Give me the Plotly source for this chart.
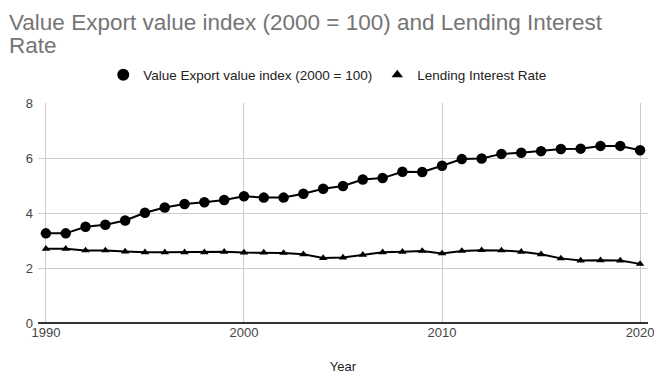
import plotly.graph_objects as go

# Annual series, 1990-2020
years = list(range(1990, 2021))
export_value_index = [
    3.26, 3.26, 3.50, 3.57, 3.73, 4.01, 4.20, 4.33, 4.39, 4.47,
    4.61, 4.56, 4.56, 4.70, 4.88, 4.98, 5.22, 5.27, 5.50, 5.49,
    5.72, 5.96, 5.98, 6.15, 6.19, 6.25, 6.33, 6.34, 6.44, 6.44,
    6.28,
]
lending_interest_rate = [
    2.70, 2.70, 2.64, 2.64, 2.60, 2.57, 2.57, 2.57, 2.57, 2.59,
    2.56, 2.56, 2.55, 2.50, 2.36, 2.38, 2.48, 2.57, 2.59, 2.62,
    2.53, 2.62, 2.65, 2.64, 2.59, 2.50, 2.35, 2.27, 2.28, 2.27,
    2.15,
]
x_ticks = [1990, 2000, 2010, 2020]
y_ticks = [0, 2, 4, 6, 8]

export_name = "Value Export value index (2000 = 100)"
rate_name = "Lending Interest Rate"
title_lines = ["Value Export value index (2000 = 100) and Lending Interest", "Rate"]

# plot area geometry in pixels (used to place the title lines above it)
PLOT_TOP = 103
PLOT_H = 220
PLOT_W = 610
MARGIN_L = 38

fig = go.Figure()

fig.add_trace(go.Scatter(
    x=years, y=export_value_index, name=export_name,
    mode="lines+markers", showlegend=False,
    line=dict(color="black", width=2),
    marker=dict(symbol="circle", size=10.5, color="black"),
))
fig.add_trace(go.Scatter(
    x=years, y=lending_interest_rate, name=rate_name,
    mode="lines+markers", showlegend=False,
    line=dict(color="black", width=2),
    marker=dict(symbol="triangle-up", size=7.5, color="black"),
))

# Marker-only legend entries
fig.add_trace(go.Scatter(
    x=[None], y=[None], name=export_name, mode="markers",
    marker=dict(symbol="circle", size=12, color="black"),
))
fig.add_trace(go.Scatter(
    x=[None], y=[None], name=rate_name, mode="markers",
    marker=dict(symbol="triangle-up", size=10, color="black"),
))

# Two-line title, set tight like a wrapped heading
for line_text, mid_px in zip(title_lines, [23.0, 45.5]):
    fig.add_annotation(
        text=line_text, showarrow=False, align="left",
        xref="paper", yref="paper",
        x=(7 - MARGIN_L) / PLOT_W, xanchor="left",
        y=1 + (PLOT_TOP - mid_px) / PLOT_H, yanchor="middle",
        font=dict(size=22.5, color="#757575"),
    )

fig.update_layout(
    width=654, height=374,
    margin=dict(l=MARGIN_L, r=6, t=PLOT_TOP, b=51, autoexpand=False),
    paper_bgcolor="white", plot_bgcolor="white",
    font=dict(family="Liberation Sans, Arial, sans-serif", size=13, color="#222222"),
    legend=dict(
        orientation="h", x=0.475, xanchor="center",
        y=1 + 28 / PLOT_H, yanchor="middle",
        font=dict(size=13.5, color="#222222"),
        itemsizing="trace", itemwidth=30,
    ),
    xaxis=dict(
        range=[1989.6, 2020.4],
        tickvals=x_ticks, ticktext=[str(v) for v in x_ticks],
        showgrid=True, gridcolor="#cccccc", gridwidth=1,
        zeroline=False, showline=False,
        ticklabeloverflow="allow",
        tickfont=dict(size=13, color="#444444"),
        title=dict(text="Year", font=dict(size=13, color="#222222"), standoff=22),
    ),
    yaxis=dict(
        range=[0, 8],
        tickvals=y_ticks,
        showgrid=True, gridcolor="#cccccc", gridwidth=1,
        zeroline=True, zerolinecolor="#333333", zerolinewidth=1.5,
        showline=False,
        tickfont=dict(size=13, color="#444444"),
        ticklabelstandoff=4,
    ),
)

fig.write_html("out.html")
